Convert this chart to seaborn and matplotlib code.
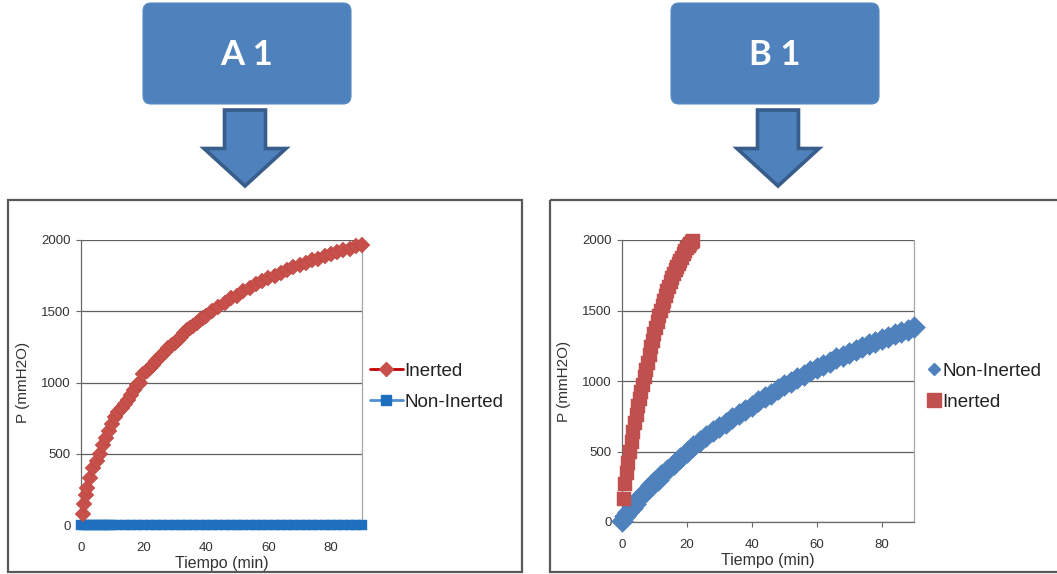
import matplotlib
matplotlib.use("Agg")
import matplotlib.pyplot as plt
from matplotlib.patches import FancyBboxPatch, Polygon, Rectangle
from matplotlib.lines import Line2D
import seaborn as sns
import pandas as pd

# ---- Data: A 1 (pressure vs time) ----
tiempo_a = [0.5, 1, 1.5, 2, 3, 4, 5, 6, 7, 8, 9, 10, 11, 12, 13, 14, 15, 16, 17, 18,
            19, 20, 21, 22, 23, 24, 25, 26, 27, 28, 29, 30, 31, 32, 33, 34, 35, 36, 37,
            38, 39, 40, 42, 44, 46, 48, 50, 52, 54,
            56, 58, 60, 62, 64, 66, 68, 70, 72, 74, 76, 78, 80, 82, 84, 86, 88, 90]
p_inerted_a = [80, 150, 210, 260, 330, 400, 450, 500, 560, 610, 660, 710, 760, 790, 820,
               850, 880, 915, 950, 985, 1000, 1060, 1080, 1100, 1125, 1150, 1170, 1190,
               1215, 1240, 1260, 1280, 1300, 1320, 1345, 1370, 1385, 1400, 1420, 1440,
               1455, 1470, 1500, 1530, 1560, 1590, 1610, 1640, 1660, 1690,
               1710, 1730, 1750, 1770, 1790, 1810, 1825, 1840, 1860, 1870, 1885, 1900,
               1915, 1930, 1940, 1955, 1965]
tiempo_a_non = [0, 1, 2, 3, 4, 5, 6, 7, 8, 9, 10, 12, 14, 16, 18, 20, 22, 24, 26, 28, 30,
                32, 34, 36, 38, 40, 42, 44, 46, 48, 50, 52, 54, 56, 58, 60, 62, 64, 66,
                68, 70, 72, 74, 76, 78, 80, 82, 84, 86, 88, 90]
p_noninerted_a = [0, 0, 0, 0, 0, 0, 0, 0, 0, 0, 0, 0, 0, 0, 0, 0, 0, 0, 0, 0, 0,
                  0, 0, 0, 0, 0, 0, 0, 0, 0, 0, 0, 0, 0, 0, 0, 0, 0, 0,
                  0, 0, 0, 0, 0, 0, 0, 0, 0, 0, 0, 0]

# ---- Data: B 1 ----
tiempo_b_non = [0, 1, 2, 3, 4, 5, 6, 7, 8, 9, 10, 11, 12, 14, 16, 18, 20, 22, 24, 26, 28,
                30, 32, 34, 36, 38, 40, 42, 44, 46, 48, 50, 52, 54, 56, 58, 60, 62, 64,
                66, 68, 70, 72, 74, 76, 78, 80, 82, 84, 86, 88, 90]
p_noninerted_b = [10, 40, 70, 100, 130, 160, 185, 210, 235, 260, 285, 300, 330, 370, 410,
                  455, 500, 540, 575, 610, 645, 675, 705, 735, 765, 795, 825, 855, 885,
                  910, 940, 970, 995, 1020, 1045, 1070, 1095, 1115, 1135, 1160, 1180,
                  1200, 1220, 1240, 1260, 1280, 1300, 1315, 1330, 1345, 1360, 1380]
tiempo_b_in = [0.5, 1, 1.5, 2, 2.5, 3, 3.5, 4, 4.5, 5, 5.5, 6, 6.5, 7, 7.5, 8, 8.5, 9,
               9.5, 10, 10.5, 11, 11.5, 12, 12.5, 13, 13.5, 14, 14.5, 15, 15.5, 16,
               16.5, 17, 17.5, 18, 18.5, 19, 19.5, 20, 20.5, 21, 21.5, 22]
p_inerted_b = [165, 270, 345, 420, 500, 570, 640, 700, 760, 820, 870, 920, 975, 1030,
               1080, 1130, 1185, 1240, 1285, 1330, 1375, 1420, 1460, 1500, 1535, 1570,
               1605, 1640, 1670, 1700, 1730, 1760, 1785, 1810, 1830, 1850, 1875, 1900,
               1920, 1940, 1955, 1970, 1985, 1995]

y_ticks = [0, 500, 1000, 1500, 2000]
x_ticks = [0, 20, 40, 60, 80]

sns.set_style("white")
plt.rcParams["font.family"] = ["Liberation Sans", "DejaVu Sans"]

W, H = 1057, 574
fig = plt.figure(figsize=(W / 100, H / 100), dpi=100)

# overlay in pixel coordinates for the header boxes, arrows and chart frames
deco = fig.add_axes([0, 0, 1, 1], zorder=0)
deco.set_xlim(0, W)
deco.set_ylim(H, 0)
deco.axis("off")

box_fill = "#4f81bd"
arrow_edge = "#385d8a"
for (x0, x1, label) in [(143, 351, "A 1"), (671, 879, "B 1")]:
    deco.add_patch(FancyBboxPatch((x0, 3), x1 - x0, 101,
                                  boxstyle="round,pad=0,rounding_size=8",
                                  fc=box_fill, ec="#5a8ac4", lw=0.8))
    deco.text((x0 + x1) / 2, 55, label, color="white", fontsize=25,
              fontweight="bold", family=["Lato", "DejaVu Sans"],
              ha="center", va="center")

for cx in (245, 778):
    pts = [(cx - 20.5, 110), (cx + 20.5, 110), (cx + 20.5, 148.5), (cx + 41, 148.5),
           (cx, 186), (cx - 41, 148.5), (cx - 20.5, 148.5)]
    deco.add_patch(Polygon(pts, closed=True, fc=box_fill, ec=arrow_edge, lw=2.6,
                           joinstyle="miter"))

for (x0, x1) in [(8, 522), (550, 1060)]:
    deco.add_patch(Rectangle((x0, 200), x1 - x0, 372, fc="none", ec="#595959", lw=1.6))


def px_axes(left, right, top, bottom):
    return fig.add_axes([left / W, (H - bottom) / H, (right - left) / W, (bottom - top) / H],
                        zorder=2)


def style_axes(ax, ylabel_x, show_bottom):
    ax.set_xlim(0, 90)
    ax.set_ylim(0, 2000)
    ax.set_xticks(x_ticks)
    ax.set_yticks(y_ticks)
    ax.set_facecolor("none")
    ax.yaxis.grid(True, color="#5f5f5f", lw=0.9)
    ax.xaxis.grid(False)
    ax.spines["top"].set_visible(False)
    ax.spines["left"].set_color("#6a6a6a")
    ax.spines["left"].set_linewidth(0.9)
    ax.spines["right"].set_color("#a6a6a6")
    ax.spines["right"].set_linewidth(0.9)
    ax.spines["bottom"].set_color("#6a6a6a")
    ax.spines["bottom"].set_linewidth(0.9)
    ax.tick_params(axis="both", which="major", direction="out", length=3.5, width=0.8,
                   color="#6a6a6a", labelsize=9.5, labelcolor="#333333", pad=4)
    ax.tick_params(axis="x", pad=9)
    ax.tick_params(left=True, bottom=show_bottom)
    ax.set_xlabel("Tiempo (min)", fontsize=11.5, color="#333333")
    ax.set_ylabel("P (mmH2O)", fontsize=11, color="#333333")
    ax.xaxis.set_label_coords(0.5, -0.11)
    ax.yaxis.set_label_coords(ylabel_x, 0.5)


# ---- A 1 ----
ax_a = px_axes(81, 362, 240, 525)
df_a_in = pd.DataFrame({"t": tiempo_a, "p": p_inerted_a})
df_a_non = pd.DataFrame({"t": tiempo_a_non, "p": p_noninerted_a})
sns.lineplot(data=df_a_non, x="t", y="p", ax=ax_a, color="#4f8fd0", lw=1.5,
             marker="s", markersize=7.9, markerfacecolor="#1f6fbf",
             markeredgecolor="#2a78c4", markeredgewidth=0.3, clip_on=False, zorder=3)
sns.lineplot(data=df_a_in, x="t", y="p", ax=ax_a, color="#b01010", lw=1.5,
             marker="D", markersize=8.4, markerfacecolor="#c8504b",
             markeredgecolor="#b8423e", markeredgewidth=0.3, clip_on=False, zorder=4)
style_axes(ax_a, -0.18, False)

handles_a = [
    Line2D([], [], color="#c00000", lw=2, marker="D", markersize=7,
           markerfacecolor="#c8504b", markeredgecolor="#c8504b"),
    Line2D([], [], color="#4f8fd0", lw=2, marker="s", markersize=7.5,
           markerfacecolor="#1f6fbf", markeredgecolor="#1f6fbf"),
]
fig.legend(handles_a, ["Inerted", "Non-Inerted"], loc="upper left",
           bbox_to_anchor=(362 / W, 1 - 355 / H), frameon=False, fontsize=13.5,
           handlelength=1.8, handletextpad=0.05, labelspacing=0.75, borderaxespad=0,
           labelcolor="#222222")

# ---- B 1 ----
ax_b = px_axes(622, 914, 240, 522)
df_b_non = pd.DataFrame({"t": tiempo_b_non, "p": p_noninerted_b})
df_b_in = pd.DataFrame({"t": tiempo_b_in, "p": p_inerted_b})
sns.scatterplot(data=df_b_in, x="t", y="p", ax=ax_b, marker="s", s=110,
                color="#c0504d", edgecolor="#c0504d", linewidth=0.3, clip_on=False,
                zorder=4)
sns.scatterplot(data=df_b_non, x="t", y="p", ax=ax_b, marker="D", s=125,
                color="#4f81bd", edgecolor="#4f81bd", linewidth=0.3, clip_on=False,
                zorder=3)
style_axes(ax_b, -0.175, True)

handles_b = [
    Line2D([], [], lw=0, marker="D", markersize=6.5, markerfacecolor="#4f81bd",
           markeredgecolor="#4f81bd"),
    Line2D([], [], lw=0, marker="s", markersize=10, markerfacecolor="#c0504d",
           markeredgecolor="#c0504d"),
]
fig.legend(handles_b, ["Non-Inerted", "Inerted"], loc="upper left",
           bbox_to_anchor=(919 / W, 1 - 355 / H), frameon=False, fontsize=13.5,
           handlelength=0.8, handletextpad=0.05, labelspacing=0.75, borderaxespad=0,
           labelcolor="#222222")

fig.savefig("out.png", dpi=100, facecolor="white")
